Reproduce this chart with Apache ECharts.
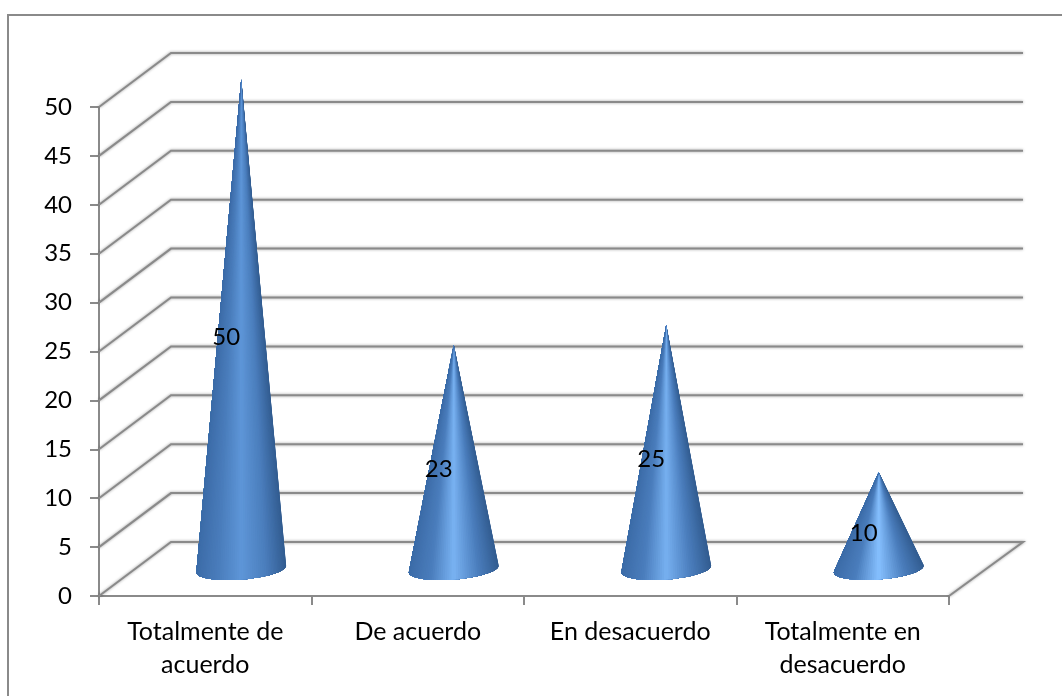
<!DOCTYPE html>
<html>
<head>
<meta charset="utf-8">
<style>html,body{margin:0;padding:0;background:#fff}#chart{width:1062px;height:696px}</style>
<script src="https://cdn.jsdelivr.net/npm/echarts@6/dist/echarts.min.js"></script>
</head>
<body>
<div id="chart"></div>
<script>
// Survey responses, drawn as pseudo-3D cones on a floor with a receding wall.
const categories = ['Totalmente de\nacuerdo', 'De acuerdo', 'En desacuerdo', 'Totalmente en\ndesacuerdo'];
const responses = [50, 23, 25, 10];
const wallTicks = [0, 5, 10, 15, 20, 25, 30, 35, 40, 45, 50];

const FONT = 'Lato, "Open Sans", sans-serif';
const GRID = '#8a8a8a';
const DEPTH = [72, -54];          // wall offset from the front plane
const WALL_OVERHANG = 2;          // the back wall runs slightly past the floor's front width
const BASE_A = 45, BASE_B = 10.5; // semi axes of a cone's base
const BASE_TILT = -4.5 * Math.PI / 180;
const APEX_DROP = 1.5;            // cone axis starts a little below the base centre
const FACETS = 64;

const mix = (a, b, k) => a.map((v, i) => v + (b[i] - v) * k);
const css = c => `rgb(${c.map(Math.round).join(',')})`;

// Colour around the visible half of the cone; s runs 0..1 from right edge to left edge.
function coneShade(s, value) {
  const slim = Math.min(1, Math.max(0, (50 - value) / 40));
  const peak = mix([94, 150, 216], [134, 192, 255], slim);
  const right = [50, 92, 144], mid = [74, 125, 188], left = [60, 108, 168];
  if (s < 0.5) {
    const k = s / 0.5;
    return k < 0.45 ? mix(right, mid, k / 0.45) : mix(mid, peak, (k - 0.45) / 0.55);
  }
  const k = (s - 0.5) / 0.5;
  return k < 0.5 ? mix(peak, mid, k / 0.5) : mix(mid, left, (k - 0.5) / 0.5);
}

function renderWall(params, api) {
  const v = api.value(0);
  const x0 = params.coordSys.x, x1 = x0 + params.coordSys.width;
  const y = api.coord([0, v])[1];
  const backEnd = [x1 + DEPTH[0] + WALL_OVERHANG, y + DEPTH[1]];
  const pts = [[x0, y], [x0 + DEPTH[0], y + DEPTH[1]], backEnd];
  if (v === 0) pts.push([x1, y]);
  return {
    type: 'polyline',
    shape: { points: pts },
    style: { stroke: GRID, lineWidth: 2, fill: null, shadowColor: 'rgba(0,0,0,0.4)', shadowBlur: 3 }
  };
}

function renderCone(params, api) {
  const value = api.value(1);
  const foot = api.coord([api.value(0), 0]);
  const head = api.coord([api.value(0), value]);
  const mid = api.coord([api.value(0), value / 2]);
  const cx = foot[0] + DEPTH[0] / 2, cy = foot[1] + DEPTH[1] / 2;
  const tip = [cx, cy + APEX_DROP - (foot[1] - head[1]) * 1.004];
  const cos = Math.cos(BASE_TILT), sin = Math.sin(BASE_TILT);
  // Tip in the base ellipse's own frame, used to find the silhouette tangents.
  const dx = tip[0] - cx, dy = tip[1] - cy;
  const lx = dx * cos + dy * sin, ly = -dx * sin + dy * cos;
  const A = lx / BASE_A, B = ly / BASE_B;
  const centre = Math.atan2(B, A), spread = Math.acos(1 / Math.hypot(A, B));
  const tStart = centre + spread, tEnd = centre - spread + 2 * Math.PI;
  const rim = t => {
    const x = BASE_A * Math.cos(t), y = BASE_B * Math.sin(t);
    return [cx + x * cos - y * sin, cy + x * sin + y * cos];
  };
  const rimPoints = [];
  for (let i = 0; i <= FACETS; i++) rimPoints.push(rim(tStart + (tEnd - tStart) * i / FACETS));
  const children = [];
  // Each layer spans from its facet to the far edge, so later layers paint over the seams.
  for (let i = 0; i < FACETS; i++) {
    const across = 0.5 - 0.5 * Math.cos((i + 0.5) / FACETS * Math.PI);
    children.push({
      type: 'polygon',
      shape: { points: [tip].concat(rimPoints.slice(i)) },
      style: { fill: css(coneShade(across, value)) }
    });
  }
  children.push({
    type: 'text',
    style: {
      x: cx - 15, y: mid[1] + DEPTH[1] / 2 + 13,
      text: String(value), fill: '#000', font: '24px ' + FONT,
      align: 'center', verticalAlign: 'middle'
    }
  });
  return { type: 'group', children };
}

const chart = echarts.init(document.getElementById('chart'), null, { renderer: 'canvas' });
chart.setOption({
  animation: false,
  backgroundColor: '#fff',
  grid: { left: 99, right: 113, top: 107, bottom: 100 },
  graphic: [{
    type: 'polyline', z: -1, silent: true,
    shape: { points: [[8, 700], [8, 15], [1062, 15]] },
    style: { fill: null, stroke: '#8a8a8a', lineWidth: 2 }
  }],
  xAxis: {
    type: 'category',
    data: categories,
    axisLine: { lineStyle: { color: GRID, width: 2 } },
    axisTick: { show: true, length: 9, lineStyle: { color: GRID, width: 2 } },
    axisLabel: { color: '#000', fontFamily: FONT, fontSize: 25, lineHeight: 33, margin: 19, interval: 0 }
  },
  yAxis: {
    type: 'value', min: 0, max: 50, interval: 5,
    splitLine: { show: false },
    axisLine: { show: true, lineStyle: { color: GRID, width: 2 } },
    axisTick: { show: true, length: 9, lineStyle: { color: GRID, width: 2 } },
    axisLabel: { color: '#000', fontFamily: FONT, fontSize: 24, margin: 27 }
  },
  series: [
    { type: 'custom', z: 1, silent: true, renderItem: renderWall, data: wallTicks.map(v => [v]), encode: { y: 0 } },
    { type: 'custom', z: 3, silent: true, renderItem: renderCone, data: responses.map((v, i) => [i, v]), encode: { x: 0, y: 1 } }
  ]
});
</script>
</body>
</html>
